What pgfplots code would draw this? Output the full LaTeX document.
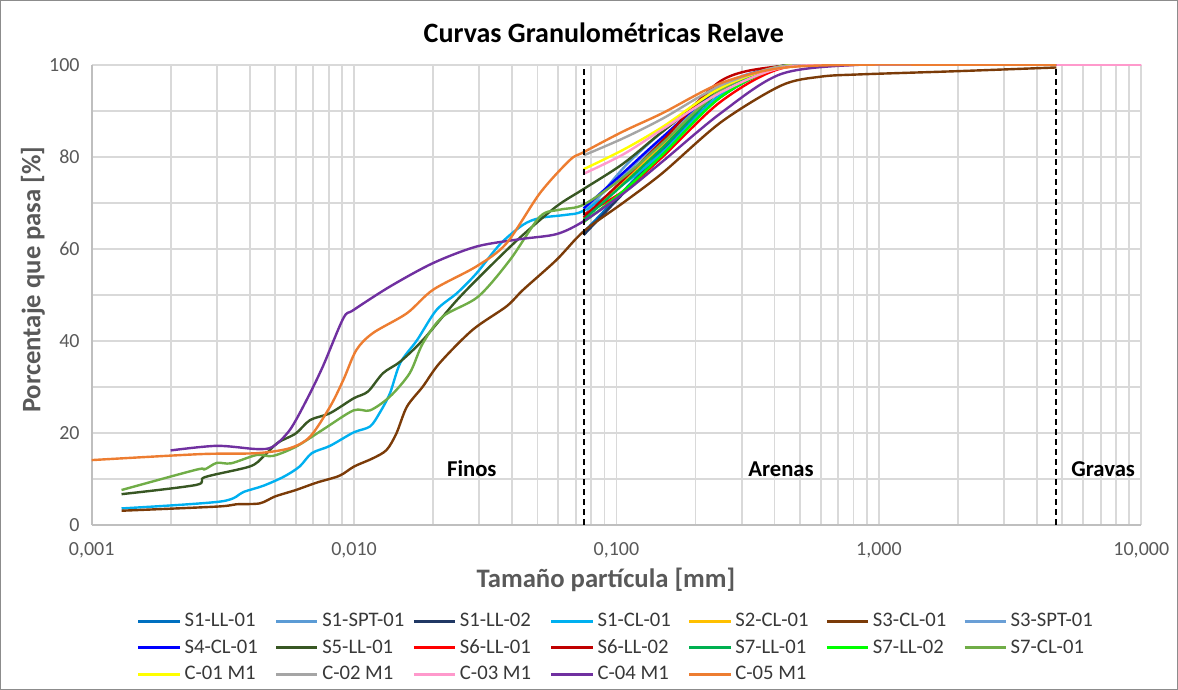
\documentclass[border=0pt]{standalone}
\usepackage{pgfplots}
\pgfplotsset{compat=1.18}
\usepackage{fontspec}
\setmainfont{Carlito}

\definecolor{gridgray}{HTML}{D9D9D9}
\definecolor{axisgray}{HTML}{BFBFBF}
\definecolor{labelgray}{HTML}{595959}
\definecolor{framegray}{HTML}{8C8C8C}
\definecolor{cS1LLa}{HTML}{0070C0}
\definecolor{cS1SPT}{HTML}{5B9BD5}
\definecolor{cS1LLb}{HTML}{203864}
\definecolor{cS1CL}{HTML}{00B0F0}
\definecolor{cS2CL}{HTML}{FFC000}
\definecolor{cS3CL}{HTML}{7B3B08}
\definecolor{cS3SPT}{HTML}{6A9FD6}
\definecolor{cS4CL}{HTML}{0000FF}
\definecolor{cS5LL}{HTML}{385723}
\definecolor{cS6LLa}{HTML}{FF0000}
\definecolor{cS6LLb}{HTML}{C00000}
\definecolor{cS7LLa}{HTML}{00B050}
\definecolor{cS7LLb}{HTML}{00FF00}
\definecolor{cS7CL}{HTML}{70AD47}
\definecolor{cC01}{HTML}{FFFF00}
\definecolor{cC02}{HTML}{A5A5A5}
\definecolor{cC03}{HTML}{FF99CC}
\definecolor{cC04}{HTML}{7030A0}
\definecolor{cC05}{HTML}{ED7D31}

\newcommand{\legbox}[1]{\makebox[65pt][l]{#1}}

\begin{document}
\begin{tikzpicture}
\begin{axis}[
  name=ax,
  scale only axis, width=786.75pt, height=345pt,
  xmode=log, xmin=0.001, xmax=10, ymin=0, ymax=100,
  enlargelimits=false,
  xtick={0.001,0.01,0.1,1,10},
  xticklabels={{0,001},{0,010},{0,100},{1,000},{10,000}},
  ytick={0,20,40,60,80,100},
  minor ytick={10,30,50,70,90},
  grid=both,
  major grid style={draw=gridgray, line width=1.4pt},
  minor grid style={draw=gridgray, line width=1.4pt},
  axis lines*=left,
  axis line style={-, draw=axisgray, line width=1.4pt},
  tick style={draw=none},
  /pgf/number format/assume math mode=true,
  every tick label/.append style={font=\fontsize{15}{18}\selectfont, text=labelgray},
  xticklabel style={anchor=center, yshift=-18.75pt},
  yticklabel style={anchor=east, xshift=-5.5pt},
  title={Curvas Granulométricas Relave},
  title style={at={(0.488,1.052)}, anchor=center, font=\fontsize{21}{25}\selectfont\bfseries, text=black},
  xlabel={Tamaño partícula [mm]},
  xlabel style={at={(0.49,-0.12)}, anchor=center, font=\fontsize{20}{24}\selectfont\bfseries, text=labelgray},
  ylabel={Porcentaje que pasa [\%]},
  ylabel style={at={(-0.056,0.533)}, anchor=center, font=\fontsize{20}{24}\selectfont\bfseries, text=labelgray},
  curve/.style={smooth, line width=1.8pt, no markers},
  legend columns=7,
  legend cell align=left,
  legend image code/.code={\draw[#1, line width=2.2pt] (0pt,0pt) -- (31pt,0pt);},
  legend style={
    at={(0.0429,-0.181)}, anchor=north west,
    draw=none, fill=none, inner sep=0pt, row sep=1pt,
    font=\fontsize{15.5}{18}\selectfont, text=black!78,
    nodes={inner sep=2.5pt, text height=11pt, text depth=3pt},
    /tikz/every even column/.append style={column sep=0pt},
  },
]

% sieve and hydrometer results, one series per sample
\addplot[curve, cS1LLa] coordinates {(0.075,63.6) (0.106,72.5) (0.15,81.5) (0.25,93.5) (0.425,99.5) (0.85,100) (2,100) (4.75,100)};
\addlegendentry{\legbox{S1-LL-01}}
\addplot[curve, cS1SPT] coordinates {(0.075,67) (0.106,77.5) (0.15,85.5) (0.25,95.5) (0.425,99.7) (0.85,100) (2,100) (4.75,100)};
\addlegendentry{\legbox{S1-SPT-01}}
\addplot[curve, cS1LLb] coordinates {(0.075,63) (0.106,72) (0.15,81) (0.25,93) (0.425,99.5) (0.85,100) (2,100) (4.75,100)};
\addlegendentry{\legbox{S1-LL-02}}
\addplot[curve, cS1CL] coordinates {(0.0013,3.6) (0.0031,5.1) (0.0038,7.2) (0.0045,8.5) (0.0054,10.5) (0.0062,12.7) (0.0069,15.6) (0.0081,17.2) (0.00995,20.1) (0.0115,21.4) (0.0125,24.3) (0.0137,28.6) (0.015,35.2) (0.0174,40.2) (0.0206,46.7) (0.0247,50.4) (0.0293,54.7) (0.036,61) (0.044,65.2) (0.0511,66.7) (0.0645,67.4) (0.075,68.3) (0.106,74) (0.15,81) (0.25,93.5) (0.425,99.5) (0.85,100) (2,100) (4.75,100)};
\addlegendentry{\legbox{S1-CL-01}}
\addplot[curve, cS2CL] coordinates {(0.075,66.5) (0.106,74.5) (0.15,82.5) (0.25,94.5) (0.425,99.6) (0.85,100) (2,100) (4.75,100)};
\addlegendentry{\legbox{S2-CL-01}}
\addplot[curve, cS3CL] coordinates {(0.0013,3.1) (0.003,4.0) (0.00356,4.5) (0.00437,4.7) (0.005,6.2) (0.006,7.6) (0.0072,9.2) (0.0088,10.7) (0.01,12.7) (0.0118,14.5) (0.0133,16.3) (0.0145,19.9) (0.0159,25.7) (0.0183,30.1) (0.0212,35.2) (0.0283,42.4) (0.0381,47.5) (0.0441,51.1) (0.0591,57.6) (0.075,63.8) (0.106,70) (0.15,76.5) (0.25,87.5) (0.425,95.5) (0.6,97.4) (0.85,97.9) (2,98.6) (4.75,99.4)};
\addlegendentry{\legbox{S3-CL-01}}
\addplot[curve, cS3SPT] coordinates {(0.075,68.5) (0.106,76) (0.15,84) (0.25,94.5) (0.425,99.6) (0.85,100) (2,100) (4.75,100)};
\addlegendentry{\legbox{S3-SPT-01}}
\addplot[curve, cS4CL] coordinates {(0.075,68.8) (0.106,76.5) (0.15,84.3) (0.25,95) (0.425,99.7) (0.85,100) (2,100) (4.75,100)};
\addlegendentry{\legbox{S4-CL-01}}
\addplot[curve, cS5LL] coordinates {(0.0013,6.7) (0.0025,8.7) (0.0027,10.4) (0.004,12.7) (0.0045,14.8) (0.0051,17.8) (0.006,19.9) (0.0068,22.8) (0.0081,24.3) (0.00995,27.5) (0.0113,29) (0.0129,33) (0.015,35.5) (0.0183,40.2) (0.0247,48.9) (0.033,56.2) (0.043,62.5) (0.059,69.2) (0.075,73) (0.106,78.5) (0.15,85.5) (0.25,95) (0.425,99.7) (0.85,100) (2,100) (4.75,100)};
\addlegendentry{\legbox{S5-LL-01}}
\addplot[curve, cS6LLa] coordinates {(0.075,67.4) (0.106,72.5) (0.15,80) (0.25,92) (0.425,99.2) (0.85,100) (2,100) (4.75,100)};
\addlegendentry{\legbox{S6-LL-01}}
\addplot[curve, cS6LLb] coordinates {(0.075,66.8) (0.106,75) (0.15,83.5) (0.25,96.5) (0.425,99.7) (0.85,100) (2,100) (4.75,100)};
\addlegendentry{\legbox{S6-LL-02}}
\addplot[curve, cS7LLa] coordinates {(0.075,66.3) (0.106,74) (0.15,82) (0.25,94.3) (0.425,99.6) (0.85,100) (2,100) (4.75,100)};
\addlegendentry{\legbox{S7-LL-01}}
\addplot[curve, cS7LLb] coordinates {(0.075,65.8) (0.106,72.5) (0.15,80.5) (0.25,93) (0.425,99.5) (0.85,100) (2,100) (4.75,100)};
\addlegendentry{\legbox{S7-LL-02}}
\addplot[curve, cS7CL] coordinates {(0.0013,7.6) (0.0025,12) (0.0027,12.1) (0.003,13.5) (0.0034,13.4) (0.00425,15.2) (0.0049,15) (0.006,17) (0.0076,20.7) (0.00995,24.9) (0.0115,24.9) (0.0137,27.9) (0.0163,33) (0.0183,39.5) (0.0218,45.3) (0.0297,49.6) (0.0393,57.6) (0.0511,67) (0.0608,68.5) (0.075,69.6) (0.106,75.5) (0.15,83) (0.25,94.5) (0.425,99.7) (0.85,100) (2,100) (4.75,100)};
\addlegendentry{\legbox{S7-CL-01}}
\addplot[curve, cC01] coordinates {(0.075,77.3) (0.106,81.5) (0.15,86.5) (0.25,95) (0.425,99.6) (0.85,100) (2,100) (4.75,100)};
\addlegendentry{\legbox{C-01 M1}}
\addplot[curve, cC02] coordinates {(0.075,80.3) (0.106,84) (0.15,88.3) (0.25,95.5) (0.425,99.6) (0.85,100) (2,100) (4.75,100)};
\addlegendentry{\legbox{C-02 M1}}
\addplot[curve, cC03] coordinates {(0.075,76.3) (0.106,80.5) (0.15,86) (0.25,94) (0.425,99.3) (0.85,100) (2,100) (4.75,100) (10,100)};
\addlegendentry{\legbox{C-03 M1}}
\addplot[curve, cC04] coordinates {(0.002,16.2) (0.003,17.2) (0.00425,16.5) (0.0049,17) (0.0057,20.7) (0.0066,27.2) (0.0076,34.4) (0.0091,44.9) (0.00995,46.7) (0.0137,51.8) (0.02,56.9) (0.0293,60.5) (0.0429,62.1) (0.0591,63.2) (0.075,66) (0.106,72) (0.15,79) (0.25,89.5) (0.425,98) (0.85,100) (2,100) (4.75,100)};
\addlegendentry{\legbox{C-04 M1}}
\addplot[curve, cC05] coordinates {(0.001,14.1) (0.0026,15.4) (0.00425,15.6) (0.0057,16.7) (0.0068,19.2) (0.0081,25.7) (0.0091,31.5) (0.0102,38) (0.0118,41.7) (0.0159,46) (0.02,51.1) (0.0293,56.2) (0.0381,61.2) (0.0511,72.1) (0.0665,79.3) (0.075,81) (0.106,85.5) (0.15,89.5) (0.25,96) (0.425,99.3) (0.85,100) (2,100) (4.75,100)};
\addlegendentry{C-05 M1}

% limits between fines, sands and gravels
\addplot[black, line width=1.5pt, dash pattern=on 4.5pt off 3pt, forget plot] coordinates {(0.075,0) (0.075,100)};
\addplot[black, line width=1.5pt, dash pattern=on 4.5pt off 3pt, forget plot] coordinates {(4.75,0) (4.75,100)};

\node[font=\fontsize{17}{20}\selectfont\bfseries] at (axis cs:0.0281,12.2) {Finos};
\node[font=\fontsize{17}{20}\selectfont\bfseries] at (axis cs:0.4236,12.2) {Arenas};
\node[font=\fontsize{17}{20}\selectfont\bfseries] at (axis cs:7.16,12.2) {Gravas};
\end{axis}
\draw[framegray, line width=0.8pt] ([xshift=-68.3pt,yshift=-123.1pt]ax.south west) rectangle ([xshift=27.1pt,yshift=48.1pt]ax.north east);
\end{tikzpicture}
\end{document}
